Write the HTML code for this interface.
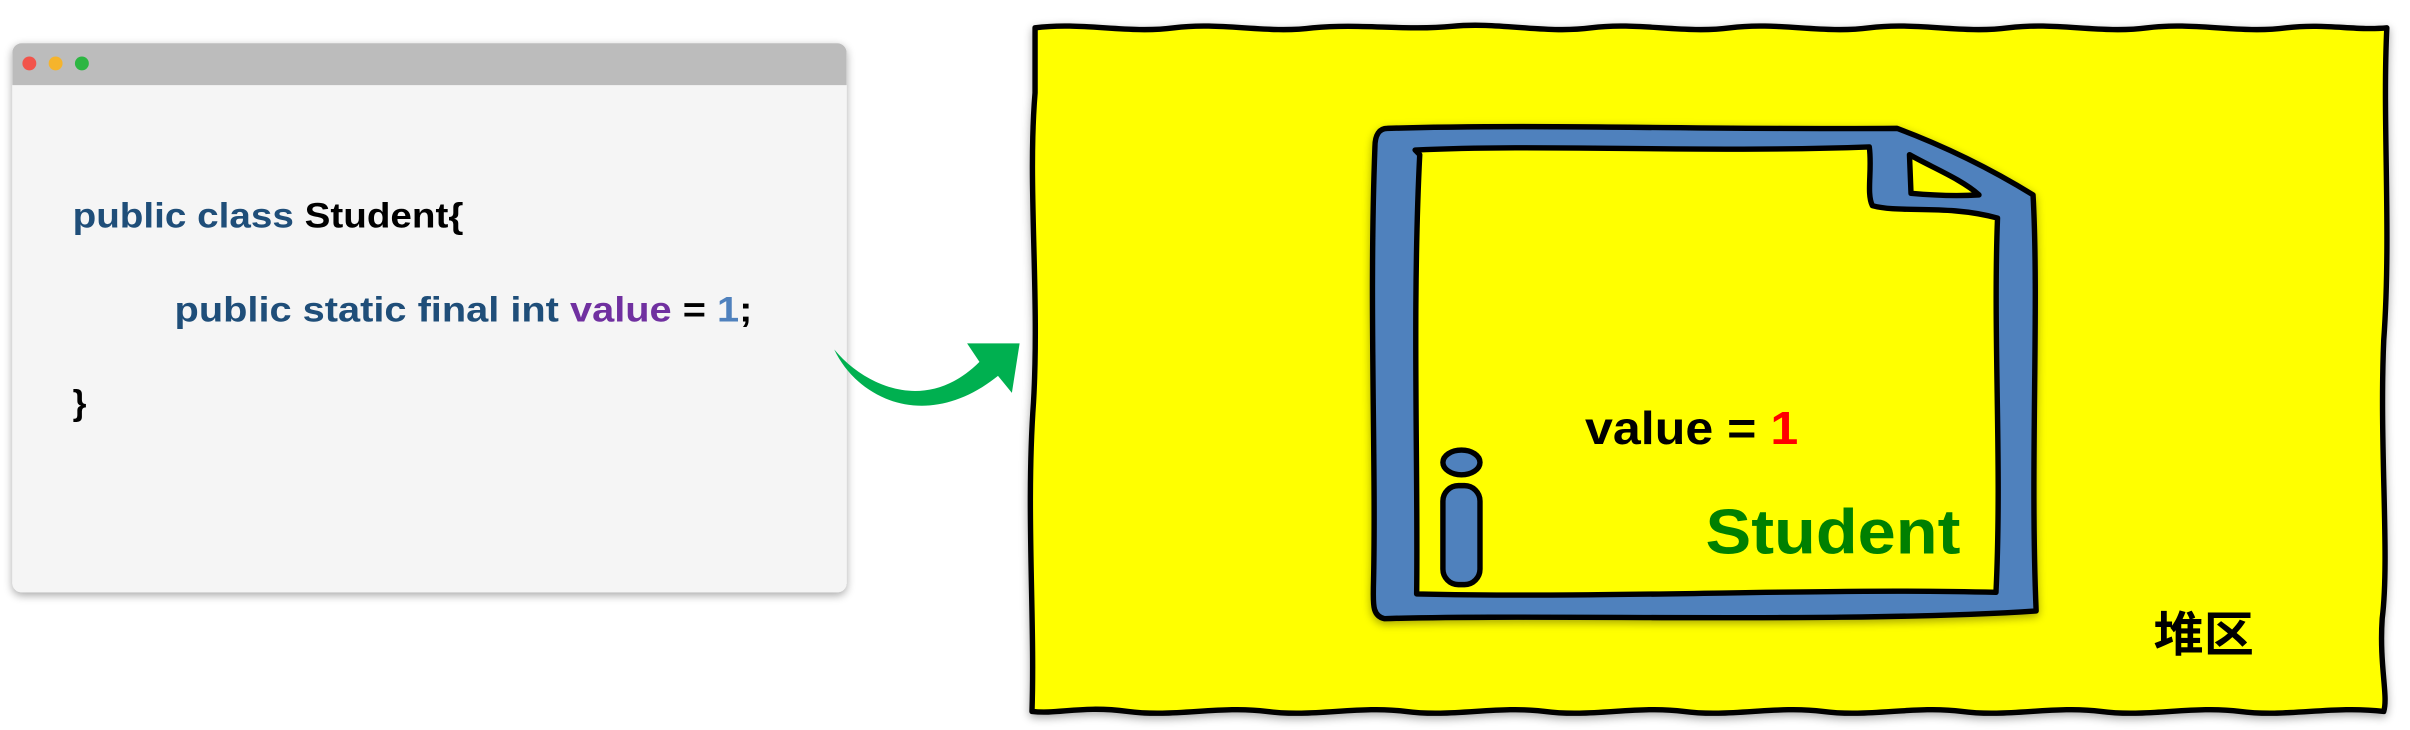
<!DOCTYPE html>
<html><head><meta charset="utf-8"><style>
html,body{margin:0;padding:0;background:#fff;width:2410px;height:730px;overflow:hidden}
svg{display:block}
text{font-family:"Liberation Sans","Noto Sans CJK SC",sans-serif;font-weight:bold}
</style></head><body>
<svg width="2410" height="730" viewBox="0 0 1560 472" preserveAspectRatio="none" xmlns="http://www.w3.org/2000/svg">
<defs>
<filter id="sh" x="-10%" y="-10%" width="120%" height="130%"><feGaussianBlur in="SourceAlpha" stdDeviation="3"/><feOffset dy="2"/><feComponentTransfer><feFuncA type="linear" slope="0.35"/></feComponentTransfer><feMerge><feMergeNode/><feMergeNode in="SourceGraphic"/></feMerge></filter>
</defs>
<g filter="url(#sh)">
<rect x="8" y="28" width="540" height="355" rx="6" fill="#f5f5f5"/>
<path d="M8 55 V34 a6 6 0 0 1 6 -6 H542 a6 6 0 0 1 6 6 V55 Z" fill="#bcbcbc"/>
</g>
<circle cx="19" cy="41" r="4.5" fill="#f2544b"/>
<circle cx="36" cy="41" r="4.5" fill="#f5b42c"/>
<circle cx="53" cy="41" r="4.5" fill="#2cb642"/>
<text x="47" y="147" font-size="23" textLength="253" lengthAdjust="spacingAndGlyphs"><tspan fill="#1f4e79">public class </tspan><tspan fill="#000">Student{</tspan></text>
<text x="113" y="208" font-size="23" textLength="374" lengthAdjust="spacingAndGlyphs"><tspan fill="#1f4e79">public static final int </tspan><tspan fill="#7030a0">value</tspan><tspan fill="#000"> = </tspan><tspan fill="#4f81bd">1</tspan><tspan fill="#000">;</tspan></text>
<text x="47" y="268" font-size="23" fill="#000">}</text>
<path fill="#00b050" d="M540 226 C560 250 600 268 634 234 L626 222 L660 222 L655 254 L646 243 C600 280 555 258 540 226 Z"/>
<path filter="url(#sh)" fill="#ffff00" stroke="#000" stroke-width="3.5" stroke-linejoin="round"
d="M670 18 C700 14 730 22 760 18 C790 14 820 22 850 18 C880 15 910 20 940 17 C970 14 1000 22 1030 18 C1060 14 1090 22 1120 18 C1150 14 1180 22 1210 18 C1240 14 1270 22 1300 18 C1330 14 1360 22 1390 18 C1420 14 1450 22 1480 18 C1505 15 1525 20 1545 18
C1542 80 1548 150 1543 220 C1540 290 1547 360 1542 400 C1540 430 1546 450 1543 460
C1510 456 1480 464 1450 460 C1420 456 1390 464 1360 460 C1330 456 1300 464 1270 460 C1240 456 1210 464 1180 460 C1150 456 1120 464 1090 460 C1060 456 1030 464 1000 460 C970 456 940 464 910 460 C880 456 850 464 820 460 C790 456 760 464 730 460 C700 456 685 462 668 460
C670 400 664 330 669 260 C673 190 665 120 670 60 Z"/>
<path filter="url(#sh)" fill="#4f81bd" stroke="#000" stroke-width="3.5" stroke-linejoin="round"
d="M898 83 C1000 80 1100 84 1228 83 C1260 95 1290 110 1316 126 C1320 200 1314 300 1318 395 C1200 403 1000 397 896 400 C888 398 889 390 889 380 C891 300 886 200 890 95 C890 87 893 83 898 83 Z"/>
<path fill="#ffff00" stroke="#000" stroke-width="3.5" stroke-linejoin="round"
d="M916 97 C1000 93 1100 99 1210 95 C1212 110 1208 125 1212 133 C1230 138 1260 132 1293 141 C1290 220 1296 300 1292 383 C1180 380 1050 387 917 384 C918 300 914 200 919 100 Z"/>
<path fill="#ffff00" stroke="#000" stroke-width="3.5" stroke-linejoin="round" d="M1236 100 C1250 108 1270 116 1281 126 C1265 127 1248 126 1237 125 Z"/>
<ellipse cx="946" cy="299" rx="12" ry="8" fill="#4f81bd" stroke="#000" stroke-width="3.5"/>
<rect x="934" y="314" width="24" height="64" rx="10" fill="#4f81bd" stroke="#000" stroke-width="3.5"/>
<text x="1026" y="287" font-size="30" textLength="138" lengthAdjust="spacingAndGlyphs"><tspan fill="#000">value = </tspan><tspan fill="#ff0000">1</tspan></text>
<text x="1104" y="358" font-size="41" fill="#008000" textLength="165" lengthAdjust="spacingAndGlyphs">Student</text>
<text x="1394" y="421" font-size="31" fill="#000" textLength="65" lengthAdjust="spacingAndGlyphs">堆区</text>
</svg>
</body></html>
